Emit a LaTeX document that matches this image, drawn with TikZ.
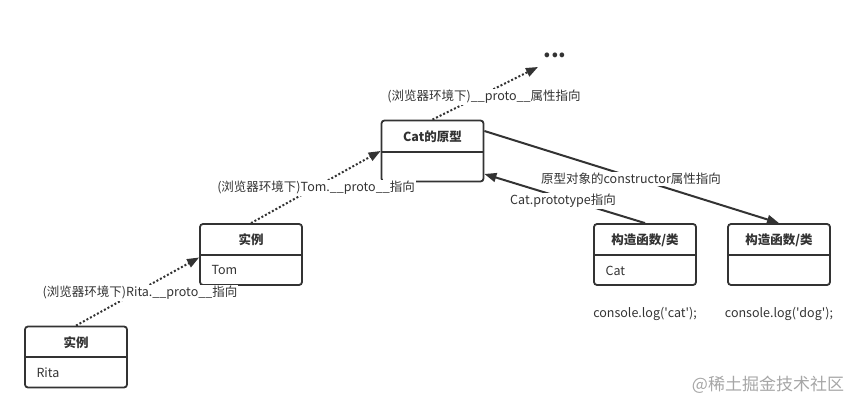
\documentclass[tikz,border=0pt]{standalone}
\usepackage{fontspec}
\setmainfont{Noto Sans CJK SC}
\usetikzlibrary{arrows.meta}
\definecolor{ink}{HTML}{333333}
\tikzset{
  box/.style={draw=ink, line width=1.8pt, rounded corners=3pt, minimum width=102pt, minimum height=61pt, inner sep=0pt},
  ttl/.style={font=\fontsize{12.5pt}{14pt}\selectfont\bfseries, text=ink},
  txt/.style={font=\fontsize{12.5pt}{14pt}\selectfont, text=ink},
  lbl/.style={font=\fontsize{12.5pt}{14pt}\selectfont, text=ink, fill=white, inner sep=1pt},
  dotarrow/.style={draw=ink, line width=2pt, dash pattern=on 2pt off 2pt, -{Triangle[length=12pt,width=9pt]}},
  solidarrow/.style={draw=ink, line width=2pt, -{Triangle[length=12pt,width=9pt]}},
}
\begin{document}
\begin{tikzpicture}[x=1pt,y=-1pt]
\useasboundingbox (0,0) rectangle (864,411);
% boxes
\node[box] (proto) at (432.5,151) {};
\draw[draw=ink, line width=1.8pt] (382,152) -- (483,152);
\node[ttl] (protot) at (432.5,136.5) {Cat的原型};

\node[box] (tom) at (251,254.5) {};
\draw[draw=ink, line width=1.8pt] (200,255) -- (302,255);
\node[ttl] (tomt) at (251,240) {实例};
\node[txt, anchor=west] (tomb) at (208,270.5) {Tom};

\node[box] (rita) at (76,357) {};
\draw[draw=ink, line width=1.8pt] (25,357) -- (127,357);
\node[ttl] (ritat) at (76,342.5) {实例};
\node[txt, anchor=west] (ritab) at (33,372.5) {Rita};

\node[box] (catc) at (645,254.5) {};
\draw[draw=ink, line width=1.8pt] (594,255) -- (696,255);
\node[ttl] (catct) at (645,240) {构造函数/类};
\node[txt, anchor=west] (catcb) at (602,270.5) {Cat};

\node[box] (dogc) at (779,254.5) {};
\draw[draw=ink, line width=1.8pt] (728,255) -- (830,255);
\node[ttl] (dogct) at (779,240) {构造函数/类};

\node[txt] (logcat) at (645,314) {console.log(\textquotesingle cat\textquotesingle);};
\node[txt] (logdog) at (779,314) {console.log(\textquotesingle dog\textquotesingle);};

\node[font=\fontsize{22pt}{22pt}\selectfont\bfseries, text=ink, inner sep=0pt] (dots) at (555,55) {...};

% connectors
\draw[dotarrow] (rita.north) -- ([yshift=-3pt]tom.west);
\draw[dotarrow] (tom.north) -- (proto.west);
\draw[dotarrow] (proto.north) -- (538,67);
\draw[solidarrow] ([yshift=20pt]proto.east) -- (dogc.north);
\draw[solidarrow] (catc.north) -- ([yshift=-23pt]proto.east);

% labels
\node[lbl] (l1) at (140,293) {(浏览器环境下)Rita.\_\_proto\_\_指向};
\node[lbl] (l2) at (316,188) {(浏览器环境下)Tom.\_\_proto\_\_指向};
\node[lbl] (l3) at (484,97) {(浏览器环境下)\_\_proto\_\_属性指向};
\node[lbl] (l4) at (631,179) {原型对象的constructor属性指向};
\node[lbl] (l5) at (563,201) {Cat.prototype指向};

\node[font=\fontsize{17pt}{19pt}\selectfont, text=black!35] (wm) at (768,385) {@稀土掘金技术社区};
\end{tikzpicture}
\end{document}
